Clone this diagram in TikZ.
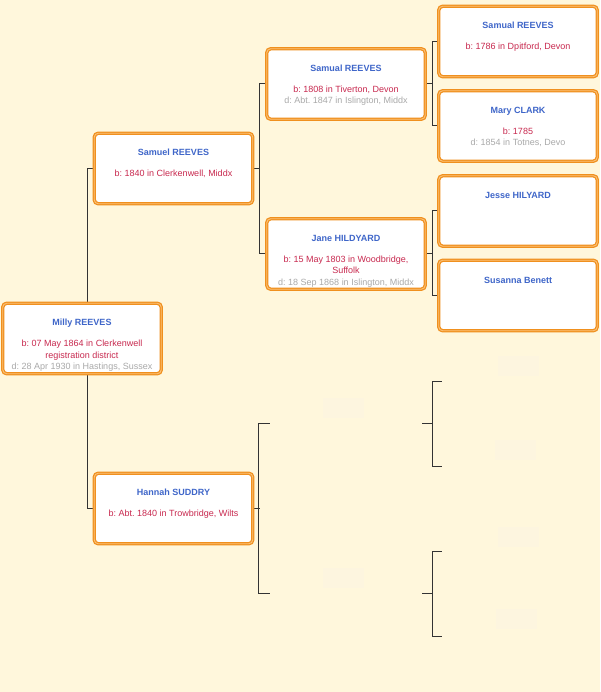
\documentclass[tikz,border=0pt]{standalone}
\usepackage{fontspec}
\setmainfont{Liberation Sans}
\usetikzlibrary{backgrounds}
\frenchspacing
\definecolor{bgc}{HTML}{FFF7DC}
\definecolor{bord}{HTML}{F0901E}
\definecolor{bordin}{HTML}{FBC27A}
\definecolor{namec}{HTML}{3F66C9}
\definecolor{birthc}{HTML}{C8294F}
\definecolor{deathc}{HTML}{A9A9A9}
\definecolor{linec}{HTML}{333333}
\definecolor{ghostc}{HTML}{FDF5DF}
\newcommand\pname[1]{\rule{0pt}{7pt}\textcolor{namec}{\bfseries #1}}
\newcommand\pbirth[1]{\textcolor{birthc}{#1}}
\newcommand\pdeath[1]{\textcolor{deathc}{#1}}
\tikzset{
 person/.style={draw=bord, double=bordin, double distance=0.9pt, line width=1.25pt, fill=white,
   rounded corners=4pt, minimum width=158.5pt, minimum height=70.5pt, inner sep=0pt},
 ghost/.style={minimum width=159pt, minimum height=71pt, inner sep=0pt},
 info/.style={anchor=north, inner sep=0pt, align=center, font=\fontsize{9}{11.5}\selectfont},
 conn/.style={draw=linec, line width=1pt},
 placeholder/.style={fill=ghostc, minimum width=41pt, minimum height=20pt, inner sep=0pt},
}
\begin{document}
\begin{tikzpicture}[x=1pt,y=-1pt]
\useasboundingbox (0,0) rectangle (600,692);
% persons
\node[person] (milly)   at (82,338.5) {};
\node[person] (samuel)  at (173.5,168.5) {};
\node[person] (hannah)  at (173.5,508.5) {};
\node[person] (samual2) at (346,84) {};
\node[person] (jane)    at (346,254) {};
\node[person] (samual3) at (518,41.5) {};
\node[person] (mary)    at (518,126) {};
\node[person] (jesse)   at (518,211) {};
\node[person] (susanna) at (518,295.5) {};
% unknown (empty) slots
\node[ghost] (u1) at (346,423) {};
\node[ghost] (u2) at (346,593) {};
\node[ghost] (g1) at (518,381) {};
\node[ghost] (g2) at (518,466) {};
\node[ghost] (g3) at (518,551) {};
\node[ghost] (g4) at (518,636) {};
\node[placeholder] (pu1) at ([xshift=-3pt,yshift=15pt]u1.center) {};
\node[placeholder] (pu2) at ([xshift=-3pt,yshift=15pt]u2.center) {};
\node[placeholder] (pg1) at ([yshift=15pt]g1.center) {};
\node[placeholder] (pg2) at ([xshift=-3pt,yshift=16pt]g2.center) {};
\node[placeholder] (pg3) at ([yshift=14pt]g3.center) {};
\node[placeholder] (pg4) at ([xshift=-2pt,yshift=17pt]g4.center) {};
% texts
\node[info] (tmilly) at ([yshift=-15.7pt]milly.north)
  {\pname{Milly REEVES}\\[9.5pt]\pbirth{b: 07 May 1864 in Clerkenwell}\\\pbirth{registration district}\\\pdeath{d: 28 Apr 1930 in Hastings, Sussex}};
\node[info] (tsamuel) at ([yshift=-15.7pt]samuel.north)
  {\pname{Samuel REEVES}\\[9.5pt]\pbirth{b: 1840 in Clerkenwell, Middx}};
\node[info] (thannah) at ([yshift=-15.7pt]hannah.north)
  {\pname{Hannah SUDDRY}\\[9.5pt]\pbirth{b: Abt. 1840 in Trowbridge, Wilts}};
\node[info] (tsamual2) at ([yshift=-15.7pt]samual2.north)
  {\pname{Samual REEVES}\\[9.5pt]\pbirth{b: 1808 in Tiverton, Devon}\\\pdeath{d: Abt. 1847 in Islington, Middx}};
\node[info] (tjane) at ([yshift=-15.7pt]jane.north)
  {\pname{Jane HILDYARD}\\[9.5pt]\pbirth{b: 15 May 1803 in Woodbridge,}\\\pbirth{Suffolk}\\\pdeath{d: 18 Sep 1868 in Islington, Middx}};
\node[info] (tsamual3) at ([yshift=-15.7pt]samual3.north)
  {\pname{Samual REEVES}\\[9.5pt]\pbirth{b: 1786 in Dpitford, Devon}};
\node[info] (tmary) at ([yshift=-15.7pt]mary.north)
  {\pname{Mary CLARK}\\[9.5pt]\pbirth{b: 1785}\\\pdeath{d: 1854 in Totnes, Devo}};
\node[info] (tjesse) at ([yshift=-15.7pt]jesse.north) {\pname{Jesse HILYARD}};
\node[info] (tsusanna) at ([yshift=-16.5pt]susanna.north) {\pname{Susanna Benett}};
% background and connectors
\begin{scope}[on background layer]
\fill[bgc] (0,0) rectangle (600,692);
\draw[conn] (samuel.west) -- ++(-6.5,0) |- (hannah.west);
\draw[conn] (samuel.east) -- ++(6.5,0);
\draw[conn] (samual2.west) -- ++(-7,0) |- (jane.west);
\draw[conn] (hannah.east) -- ++(6.5,0);
\draw[conn] ([xshift=3.5pt]u1.west) -- ++(-11,0) |- ([xshift=3.5pt]u2.west);
\draw[conn] (samual2.east) -- ++(7.5,0);
\draw[conn] (samual3.west) -- ++(-5.5,0) |- (mary.west);
\draw[conn] (jane.east) -- ++(7.5,0);
\draw[conn] (jesse.west) -- ++(-5.5,0) |- (susanna.west);
\draw[conn] ([xshift=-3.5pt]u1.east) -- ++(11,0);
\draw[conn] ([xshift=3.5pt]g1.west) -- ++(-9,0) |- ([xshift=3.5pt]g2.west);
\draw[conn] ([xshift=-3.5pt]u2.east) -- ++(11,0);
\draw[conn] ([xshift=3.5pt]g3.west) -- ++(-9,0) |- ([xshift=3.5pt]g4.west);
\end{scope}
\end{tikzpicture}
\end{document}
